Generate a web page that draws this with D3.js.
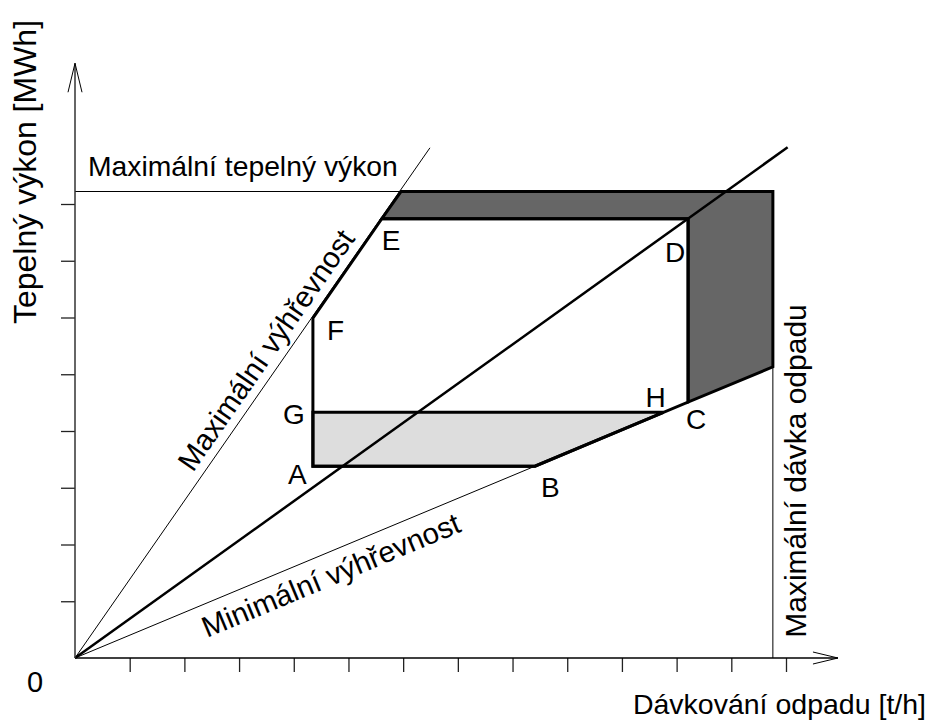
<!DOCTYPE html>
<html>
<head>
<meta charset="utf-8">
<script src="https://cdn.jsdelivr.net/npm/d3@7"></script>
<style>
  body { margin: 0; background: #fff; }
  text { font-family: "Liberation Sans", Arial, sans-serif; fill: #000; }
</style>
</head>
<body>
<div id="chart"></div>
<script>
// tick positions (no labels in the original)
var xTickValues = [1, 2, 3, 4, 5, 6, 7, 8, 9, 10, 11, 12, 13];
var yTickValues = [1, 2, 3, 4, 5, 6, 7, 8];

// corner points of the operating region, in tick units
var pointNames = ["A", "B", "C", "D", "E", "F", "G", "H"];
var pointX = [4.35, 8.41, 11.21, 11.21, 5.61, 4.35, 4.35, 10.76];
var pointY = [3.38, 3.38, 4.51, 7.74, 7.74, 5.99, 4.33, 4.33];

// limit values
var maxHeatOutput = 8.22;
var maxFeedRate = 12.76;
var maxHeatCornerX = 5.96;
var maxFeedCornerY = 5.13;

// rays from the origin (end points)
var maxCalorificEnd = [6.49, 8.99];
var midCalorificEnd = [13.03, 9.0];
var axisEnd = [13.95, 10.48];

var width = 931, height = 720;

var svg = d3.select("#chart").append("svg")
  .attr("width", width)
  .attr("height", height);

var x = d3.scaleLinear().domain([0, 13]).range([75, 786]);
var y = d3.scaleLinear().domain([0, 8]).range([658, 204]);

var pt = {};
pointNames.forEach(function(n, i) { pt[n] = [pointX[i], pointY[i]]; });

var line = d3.line()
  .x(function(d) { return x(d[0]); })
  .y(function(d) { return y(d[1]); });

// shaded areas
var darkArea = [[maxHeatCornerX, maxHeatOutput], [maxFeedRate, maxHeatOutput],
  [maxFeedRate, maxFeedCornerY], pt.C, pt.D, pt.E];
var lightArea = [pt.A, pt.B, pt.H, pt.G];

svg.append("path")
  .attr("d", line(darkArea) + "Z")
  .attr("fill", "#666")
  .attr("stroke", "#000")
  .attr("stroke-width", 3)
  .attr("stroke-linejoin", "miter");

svg.append("path")
  .attr("d", line(lightArea) + "Z")
  .attr("fill", "#ddd")
  .attr("stroke", "#000")
  .attr("stroke-width", 3);

// thin limit lines
var thin = [
  [[0, 0], maxCalorificEnd],
  [[0, 0], pt.B],
  [[0, maxHeatOutput], [maxHeatCornerX, maxHeatOutput]],
  [[maxFeedRate, 0], [maxFeedRate, maxFeedCornerY]]
];
svg.selectAll(".thin").data(thin).enter().append("path")
  .attr("class", "thin")
  .attr("d", line)
  .attr("fill", "none")
  .attr("stroke", "#000")
  .attr("stroke-width", 1);

// region outline
svg.append("path")
  .attr("d", line([pt.A, pt.B, pt.C, pt.D, pt.E, pt.F]) + "Z")
  .attr("fill", "none")
  .attr("stroke", "#000")
  .attr("stroke-width", 3);

// middle ray
svg.append("path")
  .attr("d", line([[0, 0], midCalorificEnd]))
  .attr("fill", "none")
  .attr("stroke", "#000")
  .attr("stroke-width", 2.5);

// axes
var xAxis = d3.axisBottom(x).tickValues(xTickValues).tickFormat("").tickSize(14).tickSizeOuter(0);
var yAxis = d3.axisLeft(y).tickValues(yTickValues).tickFormat("").tickSize(14).tickSizeOuter(0);

var gx = svg.append("g").attr("transform", "translate(0," + y(0) + ")").call(xAxis);
var gy = svg.append("g").attr("transform", "translate(" + x(0) + ",0)").call(yAxis);
[gx, gy].forEach(function(g) {
  g.select(".domain").remove();
  g.selectAll(".tick line").attr("stroke", "#222").attr("stroke-width", 1.3);
});

svg.append("line")
  .attr("x1", x(0)).attr("y1", y(0)).attr("x2", x(axisEnd[0])).attr("y2", y(0))
  .attr("stroke", "#000").attr("stroke-width", 1.5);
svg.append("line")
  .attr("x1", x(0)).attr("y1", y(0)).attr("x2", x(0)).attr("y2", y(axisEnd[1]))
  .attr("stroke", "#333").attr("stroke-width", 1.5);

// open arrow heads
var ax = x(axisEnd[0]), ay = y(axisEnd[1]);
svg.append("path")
  .attr("d", "M" + (ax - 25) + "," + (y(0) - 6) + "L" + ax + "," + y(0) + "L" + (ax - 25) + "," + (y(0) + 6))
  .attr("fill", "none").attr("stroke", "#000").attr("stroke-width", 1);
svg.append("path")
  .attr("d", "M" + (x(0) - 7) + "," + (ay + 29) + "L" + x(0) + "," + ay + "L" + (x(0) + 7) + "," + (ay + 29))
  .attr("fill", "none").attr("stroke", "#000").attr("stroke-width", 1);

// point letters
var letterOffset = {
  A: [-25, 18], B: [6, 31], C: [-2, 27], D: [-23, 43],
  E: [0, 31], F: [14, 22], G: [-30, 12], H: [-18, -5]
};
svg.selectAll(".pt").data(pointNames).enter().append("text")
  .attr("class", "pt")
  .attr("x", function(d) { return x(pt[d][0]) + letterOffset[d][0]; })
  .attr("y", function(d) { return y(pt[d][1]) + letterOffset[d][1]; })
  .attr("font-size", 28)
  .text(function(d) { return d; });

// labels
svg.append("text").attr("x", 27).attr("y", 692).attr("font-size", 29).text("0");

svg.append("text")
  .attr("transform", "translate(36,172) rotate(-90)")
  .attr("text-anchor", "middle")
  .attr("font-size", 32)
  .text("Tepelný výkon [MWh]");

svg.append("text")
  .attr("x", 926).attr("y", 714)
  .attr("text-anchor", "end")
  .attr("font-size", 28.5)
  .text("Dávkování odpadu [t/h]");

svg.append("text")
  .attr("x", 88).attr("y", 176)
  .attr("font-size", 28.3)
  .text("Maximální tepelný výkon");

svg.append("text")
  .attr("transform", "translate(193,473) rotate(-55.2)")
  .attr("font-size", 29.5)
  .text("Maximální výhřevnost");

svg.append("text")
  .attr("transform", "translate(207,638) rotate(-22.7)")
  .attr("font-size", 29.5)
  .text("Minimální výhřevnost");

svg.append("text")
  .attr("transform", "translate(806,471) rotate(-90)")
  .attr("text-anchor", "middle")
  .attr("font-size", 30)
  .text("Maximální dávka odpadu");
</script>
</body>
</html>
